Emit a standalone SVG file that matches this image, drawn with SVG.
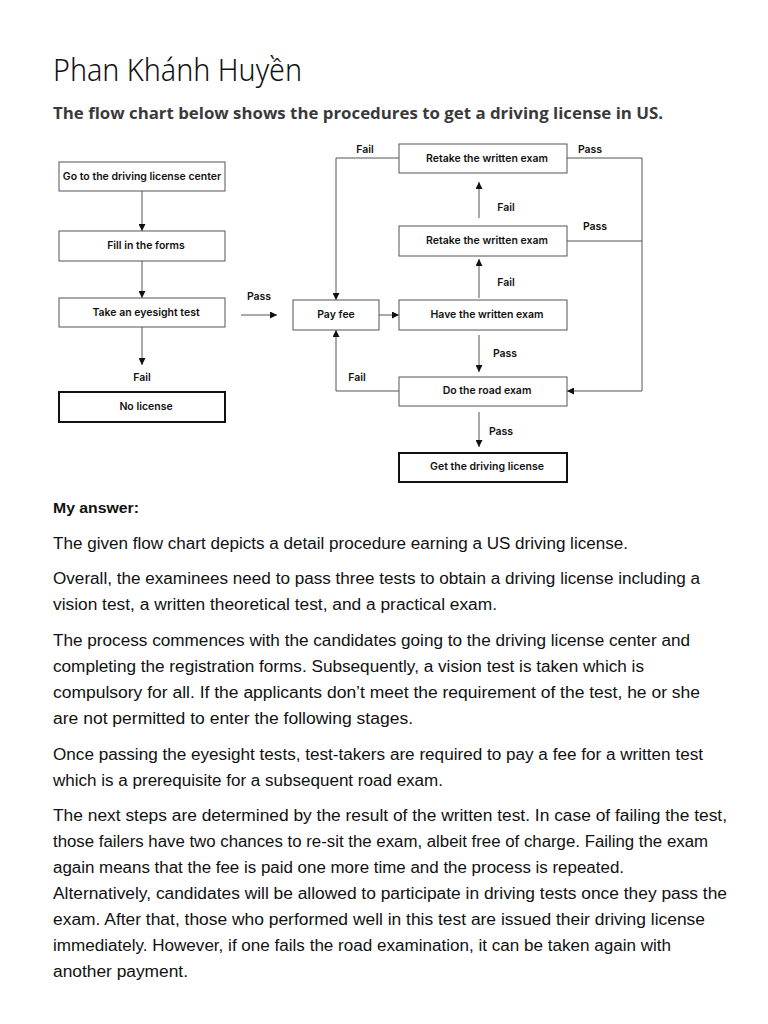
<svg xmlns="http://www.w3.org/2000/svg" width="768" height="1024" viewBox="0 0 768 1024">
<style>
.bg{fill:#ffffff}
.box{fill:#ffffff;stroke:#555555;stroke-width:1}
.tbox{fill:#ffffff;stroke:#111111;stroke-width:2}
.lbl{font-family:Inter,"Liberation Sans",sans-serif;font-weight:600;font-size:10.5px;fill:#111111;text-anchor:middle}
.edge{fill:none;stroke:#555555;stroke-width:1}
.body{font-family:"Liberation Sans",Arial,sans-serif;font-size:16px;fill:#111111}
</style>
<defs>
<marker id="ah" viewBox="0 0 10 10" refX="10" refY="5" markerWidth="7" markerHeight="7" orient="auto" markerUnits="userSpaceOnUse">
<path d="M0,0 L10,5 L0,10 z" fill="#111111"/>
</marker>
</defs>
<rect class="bg" x="0" y="0" width="768" height="1024"/>

<text x="53" y="81" font-family="'Noto Sans','Open Sans',sans-serif" font-weight="300" font-size="31" fill="#111111" textLength="249" lengthAdjust="spacingAndGlyphs">Phan Khánh Huyền</text>
<text x="53" y="119" font-family="'Open Sans','Noto Sans',sans-serif" font-weight="bold" font-size="16" fill="#3a3a3a" textLength="610" lengthAdjust="spacingAndGlyphs">The flow chart below shows the procedures to get a driving license in US.</text>

<g id="connectors">
<line class="edge" x1="142" y1="191" x2="142" y2="231" marker-end="url(#ah)"/>
<line class="edge" x1="142" y1="261" x2="142" y2="298" marker-end="url(#ah)"/>
<line class="edge" x1="142" y1="327" x2="142" y2="365" marker-end="url(#ah)"/>
<line class="edge" x1="241" y1="315" x2="277" y2="315" marker-end="url(#ah)"/>
<line class="edge" x1="379" y1="315" x2="399" y2="315" marker-end="url(#ah)"/>
<line class="edge" x1="479" y1="298" x2="479" y2="259" marker-end="url(#ah)"/>
<line class="edge" x1="479" y1="218" x2="479" y2="182" marker-end="url(#ah)"/>
<polyline class="edge" points="399,158 336,158 336,300" marker-end="url(#ah)"/>
<polyline class="edge" points="567,158 642,158 642,391 567,391" marker-end="url(#ah)"/>
<line class="edge" x1="567" y1="241" x2="642" y2="241"/>
<line class="edge" x1="479" y1="335" x2="479" y2="372" marker-end="url(#ah)"/>
<polyline class="edge" points="399,391 336,391 336,330" marker-end="url(#ah)"/>
<line class="edge" x1="479" y1="412" x2="479" y2="447" marker-end="url(#ah)"/>
<text class="lbl" x="142" y="381">Fail</text>
<text class="lbl" x="259" y="300">Pass</text>
<text class="lbl" x="365" y="153">Fail</text>
<text class="lbl" x="590" y="153">Pass</text>
<text class="lbl" x="506" y="211">Fail</text>
<text class="lbl" x="595" y="230">Pass</text>
<text class="lbl" x="506" y="286">Fail</text>
<text class="lbl" x="505" y="357">Pass</text>
<text class="lbl" x="357" y="381">Fail</text>
<text class="lbl" x="501" y="435">Pass</text>
</g>

<g id="go-center"><rect class="box" x="59" y="162" width="166" height="29"/><text class="lbl" x="142" y="180">Go to the driving license center</text></g>
<g id="fill-forms"><rect class="box" x="59" y="231" width="166" height="30"/><text class="lbl" x="146" y="249">Fill in the forms</text></g>
<g id="eyesight"><rect class="box" x="59" y="298" width="166" height="29"/><text class="lbl" x="146" y="316">Take an eyesight test</text></g>
<g id="no-license"><rect class="tbox" x="59" y="392" width="166" height="30"/><text class="lbl" x="146" y="410">No license</text></g>
<g id="pay-fee"><rect class="box" x="293" y="300" width="86" height="30"/><text class="lbl" x="336" y="318">Pay fee</text></g>
<g id="retake-1"><rect class="box" x="399" y="144" width="168" height="29"/><text class="lbl" x="487" y="162">Retake the written exam</text></g>
<g id="retake-2"><rect class="box" x="399" y="226" width="168" height="30"/><text class="lbl" x="487" y="244">Retake the written exam</text></g>
<g id="written"><rect class="box" x="399" y="300" width="168" height="30"/><text class="lbl" x="487" y="318">Have the written exam</text></g>
<g id="road"><rect class="box" x="399" y="377" width="168" height="29"/><text class="lbl" x="487" y="394">Do the road exam</text></g>
<g id="license"><rect class="tbox" x="399" y="453" width="168" height="29"/><text class="lbl" x="487" y="470">Get the driving license</text></g>

<text x="53" y="513" font-family="'Liberation Sans',Arial,sans-serif" font-weight="bold" font-size="14" fill="#111111" textLength="86" lengthAdjust="spacingAndGlyphs">My answer:</text>
<g class="body">
<text x="53" y="549" textLength="575" lengthAdjust="spacingAndGlyphs">The given flow chart depicts a detail procedure earning a US driving license.</text>
<text x="53" y="584" textLength="647" lengthAdjust="spacingAndGlyphs">Overall, the examinees need to pass three tests to obtain a driving license including a</text>
<text x="53" y="610" textLength="444" lengthAdjust="spacingAndGlyphs">vision test, a written theoretical test, and a practical exam.</text>
<text x="53" y="646" textLength="637" lengthAdjust="spacingAndGlyphs">The process commences with the candidates going to the driving license center and</text>
<text x="53" y="672" textLength="591" lengthAdjust="spacingAndGlyphs">completing the registration forms. Subsequently, a vision test is taken which is</text>
<text x="53" y="698" textLength="647" lengthAdjust="spacingAndGlyphs">compulsory for all. If the applicants don’t meet the requirement of the test, he or she</text>
<text x="53" y="724" textLength="360" lengthAdjust="spacingAndGlyphs">are not permitted to enter the following stages.</text>
<text x="53" y="760" textLength="650" lengthAdjust="spacingAndGlyphs">Once passing the eyesight tests, test-takers are required to pay a fee for a written test</text>
<text x="53" y="786" textLength="390" lengthAdjust="spacingAndGlyphs">which is a prerequisite for a subsequent road exam.</text>
<text x="53" y="821" textLength="674" lengthAdjust="spacingAndGlyphs">The next steps are determined by the result of the written test. In case of failing the test,</text>
<text x="53" y="847" textLength="655" lengthAdjust="spacingAndGlyphs">those failers have two chances to re-sit the exam, albeit free of charge. Failing the exam</text>
<text x="53" y="873" textLength="571" lengthAdjust="spacingAndGlyphs">again means that the fee is paid one more time and the process is repeated.</text>
<text x="53" y="899" textLength="674" lengthAdjust="spacingAndGlyphs">Alternatively, candidates will be allowed to participate in driving tests once they pass the</text>
<text x="53" y="925" textLength="652" lengthAdjust="spacingAndGlyphs">exam. After that, those who performed well in this test are issued their driving license</text>
<text x="53" y="951" textLength="618" lengthAdjust="spacingAndGlyphs">immediately. However, if one fails the road examination, it can be taken again with</text>
<text x="53" y="977" textLength="135" lengthAdjust="spacingAndGlyphs">another payment.</text>
</g>
</svg>
